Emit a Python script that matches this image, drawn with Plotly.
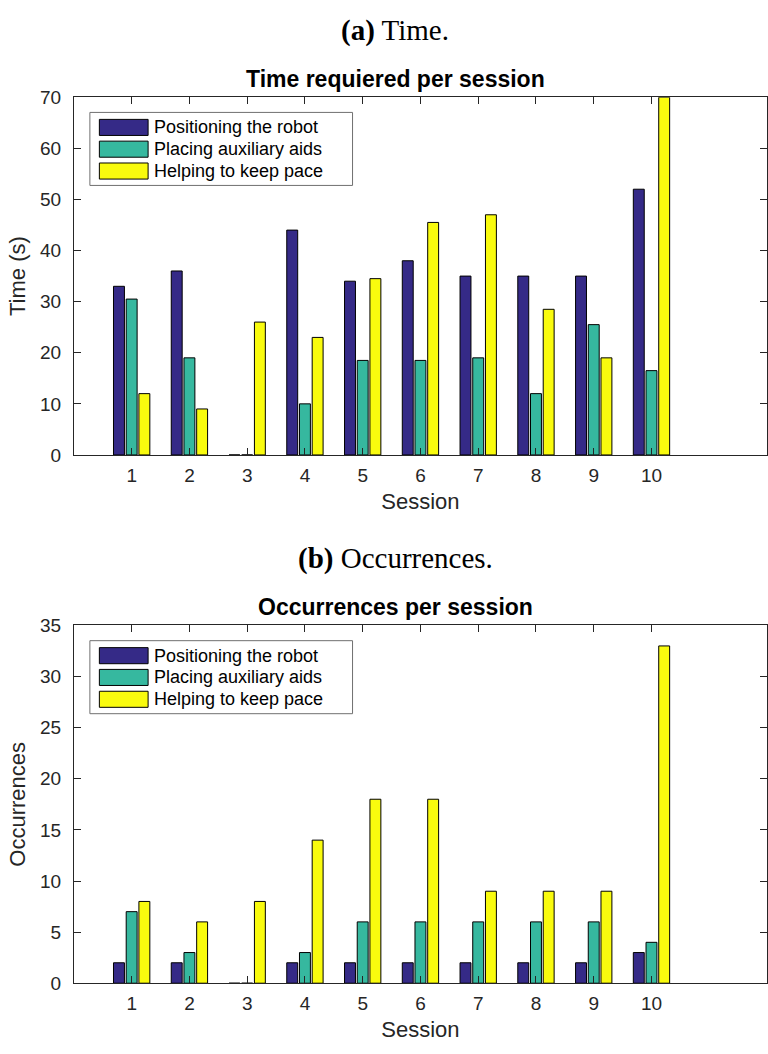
import plotly.graph_objects as go

sessions = [1, 2, 3, 4, 5, 6, 7, 8, 9, 10]
series_names = ["Positioning the robot", "Placing auxiliary aids", "Helping to keep pace"]
colors = ["#352a87", "#36b89f", "#f9fb0e"]

time_positioning = [33, 36, 0, 44, 34, 38, 35, 35, 35, 52]
time_placing = [30.5, 19, 0, 10, 18.5, 18.5, 19, 12, 25.5, 16.5]
time_helping = [12, 9, 26, 23, 34.5, 45.5, 47, 28.5, 19, 70]

occ_positioning = [2, 2, 0, 2, 2, 2, 2, 2, 2, 3]
occ_placing = [7, 3, 0, 3, 6, 6, 6, 6, 6, 4]
occ_helping = [8, 6, 8, 14, 18, 18, 9, 9, 9, 33]

time_series = [time_positioning, time_placing, time_helping]
occ_series = [occ_positioning, occ_placing, occ_helping]

W, H = 768, 1054


def px(x):
    return x / W


def py(y):
    return 1 - y / H


left_px, right_px = 74, 768
p1_top, p1_bot = 89, 454
p2_top, p2_bot = 628, 993

fig = go.Figure()
for i, (name, col) in enumerate(zip(series_names, colors)):
    fig.add_trace(go.Bar(x=sessions, y=time_series[i], name=name, marker_color=col,
                         marker_line=dict(color="black", width=1), showlegend=False,
                         xaxis="x", yaxis="y", offsetgroup=str(i)))
for i, (name, col) in enumerate(zip(series_names, colors)):
    fig.add_trace(go.Bar(x=sessions, y=occ_series[i], name=name, marker_color=col,
                         marker_line=dict(color="black", width=1), showlegend=False,
                         xaxis="x2", yaxis="y2", offsetgroup=str(i)))

axcol = "#262626"
sans = "Liberation Sans, Arial, Helvetica"
tickfont = dict(family=sans, size=19, color=axcol)
labfont = dict(family=sans, size=22, color=axcol)
common_x = dict(range=[0, 12], tickmode="array", tickvals=sessions, ticks="inside", ticklen=7,
                tickcolor=axcol, showline=True, linecolor=axcol, linewidth=1, mirror="ticks",
                showgrid=False, zeroline=False, tickfont=tickfont, ticklabelstandoff=3,
                title=dict(text="Session", font=labfont, standoff=8))
common_y = dict(ticks="inside", ticklen=7, tickcolor=axcol, showline=True, linecolor=axcol,
                linewidth=1, mirror="ticks", showgrid=False, zeroline=False, tickfont=tickfont,
                ticklabelstandoff=8)

dx = [px(left_px), min(1.0, px(right_px))]
fig.update_layout(
    width=W, height=H, margin=dict(l=0, r=0, t=0, b=0),
    paper_bgcolor="white", plot_bgcolor="white",
    barmode="group", bargap=0.34, bargroupgap=0.14,
    xaxis=dict(domain=dx, anchor="y", **common_x),
    yaxis=dict(domain=[py(p1_bot), py(p1_top)], anchor="x", range=[0, 70], dtick=10,
               title=dict(text="Time (s)", font=labfont, standoff=8), **common_y),
    xaxis2=dict(domain=dx, anchor="y2", **common_x),
    yaxis2=dict(domain=[py(p2_bot), py(p2_top)], anchor="x2", range=[0, 35], dtick=5,
                title=dict(text="Occurrences", font=labfont, standoff=8), **common_y),
    font=dict(family=sans, color=axcol),
)

serif = dict(family="Liberation Serif, Times New Roman", size=29, color="black")
fig.add_annotation(text="<b>(a)</b> Time.", x=px(396), y=py(21), xref="paper", yref="paper",
                   showarrow=False, font=serif, yanchor="middle")
fig.add_annotation(text="<b>(b)</b> Occurrences.", x=px(396), y=py(560), xref="paper", yref="paper",
                   showarrow=False, font=serif, yanchor="middle")

titlefont = dict(family=sans, size=23, color="black")
fig.add_annotation(text="<b>Time requiered per session</b>", x=px(396), y=py(70.5), xref="paper",
                   yref="paper", showarrow=False, font=titlefont, yanchor="middle")
fig.add_annotation(text="<b>Occurrences per session</b>", x=px(396), y=py(609.5), xref="paper",
                   yref="paper", showarrow=False, font=titlefont, yanchor="middle")

legfont = dict(family=sans, size=18, color="black")
ph = p1_bot - p1_top
pw = right_px - left_px


def lx(x):
    return (x - left_px) / pw


def ly(y):
    return (p1_bot - y) / ph


row_y = [ly(119.8), ly(142), ly(164.3)]
sh = 8.2 / ph
for xa, ya in [("x", "y"), ("x2", "y2")]:
    xr, yr = xa + " domain", ya + " domain"
    fig.add_shape(type="rect", xref=xr, yref=yr, x0=lx(90), x1=lx(353), y0=ly(179), y1=ly(104.5),
                  line=dict(color="#707070", width=1), fillcolor="white", layer="above")
    for name, col, ry in zip(series_names, colors, row_y):
        fig.add_shape(type="rect", xref=xr, yref=yr, x0=lx(99.5), x1=lx(148.3), y0=ry - sh,
                      y1=ry + sh, line=dict(color="black", width=1), fillcolor=col, layer="above")
        fig.add_annotation(text=name, xref=xr, yref=yr, x=lx(152), y=ry, xanchor="left",
                           yanchor="middle", showarrow=False, font=legfont)

fig.write_html("out.html")
